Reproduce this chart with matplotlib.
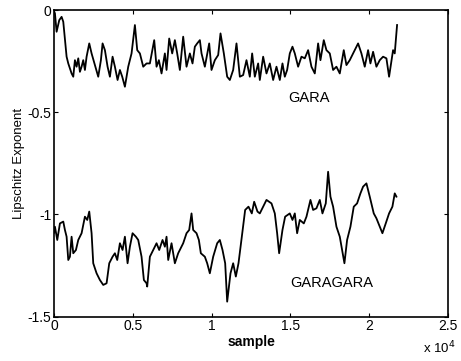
import matplotlib
matplotlib.use('Agg')
import matplotlib.pyplot as plt
from matplotlib.ticker import FuncFormatter

plt.rcParams['font.family'] = ['Liberation Sans', 'DejaVu Sans']
plt.rcParams['axes.unicode_minus'] = False

# GARA trace (sample, Lipschitz exponent)
gara_x = [0, 63, 169, 338, 486, 592, 803, 909, 1120, 1226, 1331, 1437, 1543, 1648, 1754,
          1859, 1965, 2071, 2240, 2388, 2599, 2810, 2979, 3085, 3233, 3402, 3550, 3719,
          3867, 4036, 4184, 4332, 4501, 4712, 4923, 5135, 5283, 5452, 5663, 5874, 6085,
          6360, 6508, 6656, 6825, 7036, 7142, 7311, 7501, 7670, 7818, 7987, 8198, 8410,
          8621, 8790, 8938, 9086, 9255, 9361, 9572, 9847, 9994, 10206, 10417, 10565,
          10776, 10988, 11157, 11368, 11579, 11791, 12002, 12213, 12424, 12572, 12741,
          12953, 13058, 13270, 13481, 13692, 13904, 14115, 14326, 14495, 14643, 14791,
          14960, 15129, 15277, 15488, 15700, 15911, 16122, 16333, 16545, 16756, 16904,
          17115, 17284, 17496, 17707, 17918, 18130, 18383, 18552, 18763, 18975, 19292,
          19503, 19714, 19926, 20074, 20243, 20454, 20665, 20876, 21088, 21257, 21510,
          21616, 21764]
gara_y = [-0.005, -0.016, -0.106, -0.049, -0.033, -0.057, -0.228, -0.261, -0.310, -0.326, -0.245,
          -0.277, -0.236, -0.302, -0.277, -0.245, -0.293, -0.228, -0.163, -0.212, -0.269,
          -0.326, -0.245, -0.163, -0.196, -0.277, -0.326, -0.228, -0.277, -0.342, -0.293,
          -0.326, -0.375, -0.277, -0.212, -0.073, -0.196, -0.212, -0.277, -0.261, -0.261,
          -0.147, -0.277, -0.245, -0.310, -0.212, -0.293, -0.139, -0.212, -0.147, -0.212,
          -0.293, -0.130, -0.277, -0.212, -0.261, -0.179, -0.163, -0.147, -0.212, -0.277,
          -0.163, -0.293, -0.245, -0.220, -0.114, -0.212, -0.326, -0.342, -0.293, -0.163,
          -0.326, -0.318, -0.245, -0.326, -0.212, -0.326, -0.261, -0.342, -0.228, -0.310,
          -0.261, -0.342, -0.277, -0.342, -0.261, -0.326, -0.293, -0.212, -0.179, -0.212,
          -0.277, -0.228, -0.236, -0.196, -0.277, -0.310, -0.163, -0.245, -0.147, -0.196,
          -0.212, -0.293, -0.277, -0.310, -0.196, -0.269, -0.245, -0.212, -0.163, -0.212,
          -0.277, -0.196, -0.261, -0.204, -0.277, -0.245, -0.228, -0.236, -0.326, -0.196,
          -0.212, -0.073]

# GARAGARA trace
gg_x = [0, 63, 211, 380, 592, 697, 803, 909, 1014, 1120, 1226, 1395, 1543, 1754, 1965, 2113,
        2240, 2388, 2493, 2705, 2916, 3127, 3339, 3508, 3719, 3867, 4015, 4184, 4353,
        4501, 4670, 4818, 4987, 5198, 5346, 5557, 5705, 5874, 5916, 6085, 6297, 6508,
        6677, 6888, 7036, 7142, 7248, 7459, 7670, 7881, 8198, 8410, 8579, 8727, 8832,
        9044, 9192, 9318, 9572, 9720, 9888, 10100, 10354, 10523, 10692, 10861, 10988,
        11199, 11368, 11537, 11706, 11917, 12128, 12340, 12550, 12700, 12910, 13058,
        13270, 13481, 13798, 14009, 14157, 14284, 14495, 14664, 14960, 15129, 15277,
        15425, 15594, 15848, 16017, 16270, 16439, 16650, 16862, 17031, 17242, 17390,
        17538, 17707, 17918, 18130, 18425, 18594, 18806, 19017, 19228, 19440, 19609,
        19820, 20031, 20285, 20454, 20834, 21045, 21257, 21468, 21616, 21722]
gg_y = [-1.09, -1.060, -1.125, -1.044, -1.035, -1.076, -1.109, -1.223, -1.207, -1.109, -1.190,
        -1.174, -1.125, -1.092, -1.011, -1.027, -0.986, -1.092, -1.239, -1.288, -1.321,
        -1.345, -1.337, -1.239, -1.207, -1.190, -1.223, -1.141, -1.174, -1.109, -1.239,
        -1.158, -1.092, -1.109, -1.125, -1.207, -1.321, -1.337, -1.353, -1.207, -1.174,
        -1.141, -1.174, -1.125, -1.158, -1.109, -1.223, -1.141, -1.239, -1.190, -1.141,
        -1.092, -1.076, -0.995, -1.076, -1.092, -1.125, -1.190, -1.207, -1.239, -1.288,
        -1.207, -1.141, -1.125, -1.174, -1.239, -1.427, -1.288, -1.239, -1.304, -1.239,
        -1.109, -0.978, -0.962, -0.995, -0.938, -0.986, -0.995, -0.962, -0.929, -0.946,
        -0.995, -1.092, -1.190, -1.076, -1.011, -0.995, -1.027, -0.995, -1.092, -1.027,
        -1.044, -1.011, -0.929, -0.978, -0.970, -0.929, -0.995, -0.946, -0.791, -0.913,
        -0.962, -1.060, -1.109, -1.239, -1.125, -1.060, -0.962, -0.946, -0.897, -0.864,
        -0.848, -0.913, -0.995, -1.019, -1.092, -1.044, -0.995, -0.962, -0.897, -0.913]

fig = plt.figure(figsize=(4.61, 3.61), dpi=100)
ax = fig.add_axes([0.117, 0.123, 0.855, 0.849])

ax.plot(gara_x, gara_y, color='black', linewidth=1.3)
ax.plot(gg_x, gg_y, color='black', linewidth=1.3)

ax.text(16200, -0.43, 'GARA', ha='center', va='center', fontsize=10.5)
ax.text(17600, -1.335, 'GARAGARA', ha='center', va='center', fontsize=10.5)

ax.set_xlim(0, 25000)
ax.set_ylim(-1.5, 0)
ax.set_xticks([0, 5000, 10000, 15000, 20000, 25000])
ax.set_yticks([-1.5, -1, -0.5, 0])
ax.xaxis.set_major_formatter(FuncFormatter(lambda v, p: '%g' % (v / 1e4)))
ax.yaxis.set_major_formatter(FuncFormatter(lambda v, p: '%g' % v))
ax.tick_params(direction='in', top=True, right=True, length=3, width=0.8,
               labelsize=10, pad=2)
for s in ax.spines.values():
    s.set_linewidth(1.2)

ax.set_xlabel('sample', fontsize=10, labelpad=1, fontweight='bold')
ax.set_ylabel('Lipschitz Exponent', fontsize=9.5, labelpad=2)
fig.text(0.918, 0.012, r'x 10$^4$', fontsize=9.5, ha='left', va='bottom')

fig.savefig('out.png', dpi=100)
